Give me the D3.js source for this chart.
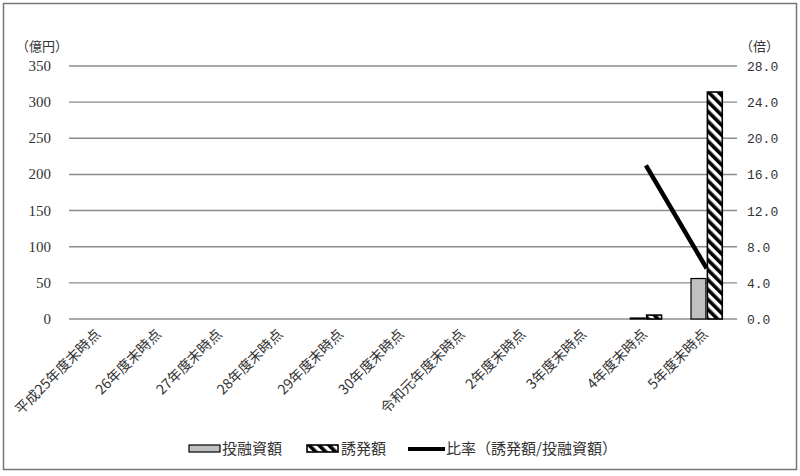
<!DOCTYPE html>
<html><head><meta charset="utf-8">
<script src="https://cdn.jsdelivr.net/npm/d3@7"></script>
<style>body{margin:0;background:#fff}svg{display:block}</style>
</head><body>
<svg id="c" width="800" height="476"></svg>
<script>
const categories = ["平成25年度末時点","26年度末時点","27年度末時点","28年度末時点","29年度末時点","30年度末時点","令和元年度末時点","2年度末時点","3年度末時点","4年度末時点","5年度末時点"];
const investment = [0,0,0,0,0,0,0,0,0,0.32,56];
const induced = [0,0,0,0,0,0,0,0,0,5.4,314];
const ratio = [null,null,null,null,null,null,null,null,null,17.0,5.6];
const leftTicks = [0,50,100,150,200,250,300,350];
const rightTicks = [0,4,8,12,16,20,24,28];
const seriesNames = ["投融資額","誘発額","比率（誘発額/投融資額）"];

const svg = d3.select("#c");
const cjk = "'Noto Sans CJK JP', sans-serif";
const num = "'Liberation Serif', serif";
const mono = "'Liberation Mono', monospace";

const defs = svg.append("defs");
const pat = defs.append("pattern").attr("id","hatch").attr("patternUnits","userSpaceOnUse")
  .attr("width",7).attr("height",7).attr("patternTransform","rotate(-45)");
pat.append("rect").attr("width",7).attr("height",7).attr("fill","#fff");
pat.append("rect").attr("width",3.6).attr("height",7).attr("fill","#000");

// border
svg.append("rect").attr("x",3.5).attr("y",3.5).attr("width",793).attr("height",466)
  .attr("fill","none").attr("stroke","#777").attr("stroke-width",1.5);

const L = 69, R = 737, T = 66, B = 319;
const x = d3.scaleBand().domain(categories).range([L,R]).padding(0);
const yL = d3.scaleLinear().domain([0,350]).range([B,T]);
const yR = d3.scaleLinear().domain([0,28]).range([B,T]);

// gridlines
svg.append("g").selectAll("line").data(leftTicks).join("line")
  .attr("x1",L).attr("x2",R).attr("y1",d=>yL(d)).attr("y2",d=>yL(d))
  .attr("stroke","#8c8c8c").attr("stroke-width",1.4);

// left labels
svg.append("g").selectAll("text").data(leftTicks).join("text")
  .attr("x",51).attr("y",d=>yL(d)+5).attr("text-anchor","end")
  .attr("font-family",num).attr("font-size",15).attr("fill","#333").text(d=>d);
// right labels
svg.append("g").selectAll("text").data(rightTicks).join("text")
  .attr("x",747).attr("y",d=>yR(d)+5).attr("text-anchor","start")
  .attr("font-family",mono).attr("font-size",13).attr("fill","#333").text(d=>d.toFixed(1));

svg.append("text").attr("x",20).attr("y",51).attr("font-family",cjk).attr("font-size",13)
  .attr("fill","#333").text("（億円）").attr("dx",-4);
svg.append("text").attr("x",744).attr("y",51).attr("font-family",cjk).attr("font-size",13)
  .attr("fill","#333").text("（倍）").attr("dx",-4);

// bars
const bw = x.bandwidth()*0.245, gap = 1.5;
const cx = c => x(c)+x.bandwidth()/2;
const invData = categories.map((c,i)=>({c,v:investment[i]})).filter(d=>d.v>0);
const indData = categories.map((c,i)=>({c,v:induced[i]})).filter(d=>d.v>0);
svg.append("g").selectAll("rect").data(invData).join("rect")
  .attr("x",d=>cx(d.c)-gap/2-bw).attr("width",bw)
  .attr("y",d=>Math.min(yL(d.v),B-1)).attr("height",d=>Math.max(1,B-yL(d.v)))
  .attr("fill","#c0c0c0").attr("stroke","#000").attr("stroke-width",1.2);
svg.append("g").selectAll("rect").data(indData).join("rect")
  .attr("x",d=>cx(d.c)+gap/2).attr("width",bw)
  .attr("y",d=>yL(d.v)).attr("height",d=>B-yL(d.v))
  .attr("fill","url(#hatch)").attr("stroke","#000").attr("stroke-width",1.6);

// line
const line = d3.line().defined(d=>d.v!=null).x(d=>cx(d.c)).y(d=>yR(d.v));
svg.append("path").datum(categories.map((c,i)=>({c,v:ratio[i]})))
  .attr("d",line).attr("fill","none").attr("stroke","#000").attr("stroke-width",4.5);

// x labels
svg.append("g").selectAll("text").data(categories).join("text")
  .attr("transform",c=>`translate(${cx(c)+2},${B+16}) rotate(-45)`)
  .attr("text-anchor","end").attr("font-family",cjk).attr("font-size",14).attr("fill","#333").text(c=>c);

// legend
const lg = svg.append("g");
const ly = 449;
lg.append("rect").attr("x",189).attr("y",ly-4).attr("width",31).attr("height",7)
  .attr("fill","#c0c0c0").attr("stroke","#000").attr("stroke-width",1.2);
lg.append("text").attr("x",222).attr("y",ly+5).attr("font-family",cjk).attr("font-size",15).attr("fill","#333").text(seriesNames[0]);
lg.append("rect").attr("x",307).attr("y",ly-4).attr("width",31).attr("height",7)
  .attr("fill","url(#hatch)").attr("stroke","#000").attr("stroke-width",1.6);
lg.append("text").attr("x",341).attr("y",ly+5).attr("font-family",cjk).attr("font-size",15).attr("fill","#333").text(seriesNames[1]);
lg.append("line").attr("x1",408).attr("x2",445).attr("y1",ly).attr("y2",ly)
  .attr("stroke","#000").attr("stroke-width",4);
lg.append("text").attr("x",446).attr("y",ly+5).attr("font-family",cjk).attr("font-size",15).attr("fill","#333").text(seriesNames[2]);
</script>
</body></html>
